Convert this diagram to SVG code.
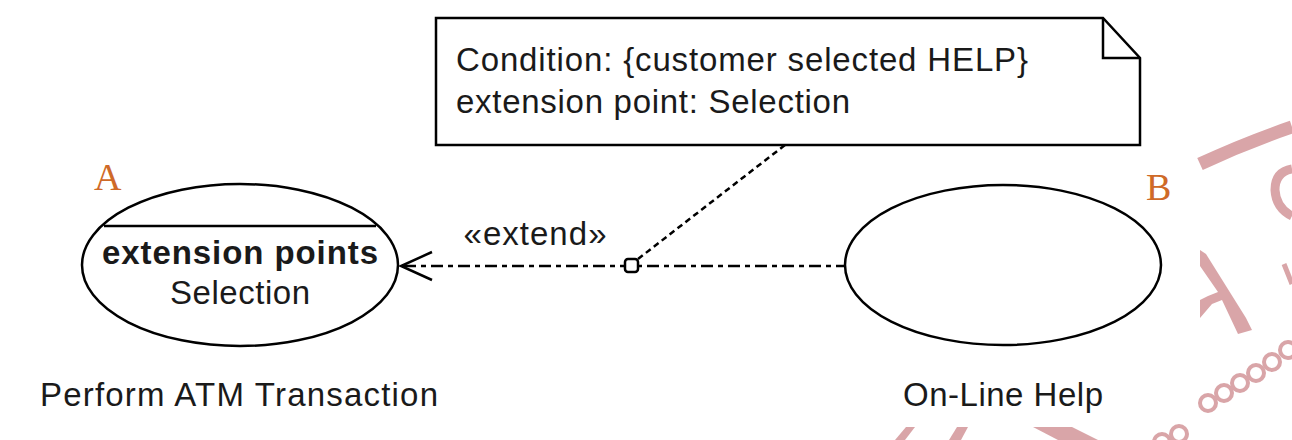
<svg xmlns="http://www.w3.org/2000/svg" width="1292" height="440" viewBox="0 0 1292 440">
<style>
.ln{fill:none;stroke:#000;stroke-width:2.5}
.t{font-family:"Liberation Sans",Arial,sans-serif;fill:#1a1a1a;font-size:33px}
.lbl{font-family:"Liberation Serif","Times New Roman",serif;fill:#cf6a28;font-size:38px}
.wm{fill:#d9a5a8}
.wms{fill:none;stroke:#d9a5a8}
</style>
<rect width="1292" height="440" fill="#fff"/>
<g id="watermark">
<path class="wms" d="M1200,164 Q1245,143 1292,127" stroke-width="13"/>
<path class="wms" d="M1292,169 Q1275,172 1275,190 Q1276,208 1292,216" stroke-width="9"/>
<polygon class="wm" points="1200,250 1206,254 1246,318 1252,330 1238,334 1222,300 1212,304 1200,318 1200,300 1208,296 1218,292 1200,266"/>
<path class="wms" d="M1284,264 L1292,284" stroke-width="5"/>
<g class="wms" stroke-width="4">
<circle cx="1208" cy="403" r="8"/><circle cx="1224" cy="393" r="8"/><circle cx="1240" cy="383" r="8"/>
<circle cx="1256" cy="373" r="8"/><circle cx="1272" cy="362" r="8"/><circle cx="1288" cy="350" r="8"/>
<circle cx="1162" cy="442" r="8"/><circle cx="1179" cy="434" r="8"/>
</g>
<polygon class="wm" points="906,427 915,427 905,440 895,440"/>
<polygon class="wm" points="957,427 968,427 961,440 949,440"/>
<polygon class="wm" points="1033,427 1072,427 1098,440 1058,440"/>
</g>
<g id="connectors">
<line class="ln" x1="404" y1="266" x2="845" y2="266" stroke-dasharray="12 5 5 5"/>
<polyline class="ln" points="432,252 401,266 432,280"/>
<line class="ln" x1="638" y1="259" x2="785" y2="145" stroke-dasharray="6 4"/>
<rect x="625" y="259" width="13" height="13" rx="3" fill="#fff" stroke="#000" stroke-width="2.5"/>
<text class="t" x="535" y="245" text-anchor="middle" textLength="143">«extend»</text>
</g>
<g id="note">
<path class="ln" d="M436,18 H1103 L1140,58 V145 H436 Z" fill="#fff"/>
<path class="ln" d="M1103,18 V58 H1140"/>
<text class="t" x="456" y="71" textLength="572">Condition: {customer selected HELP}</text>
<text class="t" x="456" y="113" textLength="394">extension point: Selection</text>
</g>
<g id="nodeA">
<ellipse class="ln" cx="240" cy="265" rx="158" ry="81"/>
<line class="ln" x1="104" y1="226" x2="376" y2="226"/>
<text class="t" x="240" y="264" font-weight="bold" text-anchor="middle" textLength="276">extension points</text>
<text class="t" x="240" y="304" text-anchor="middle" textLength="140">Selection</text>
<text class="t" x="40" y="406" textLength="398">Perform ATM Transaction</text>
<text class="lbl" x="94" y="190">A</text>
</g>
<g id="nodeB">
<ellipse class="ln" cx="1003" cy="265" rx="158" ry="80"/>
<text class="t" x="903" y="406" textLength="200">On-Line Help</text>
<text class="lbl" x="1146" y="200">B</text>
</g>
</svg>
